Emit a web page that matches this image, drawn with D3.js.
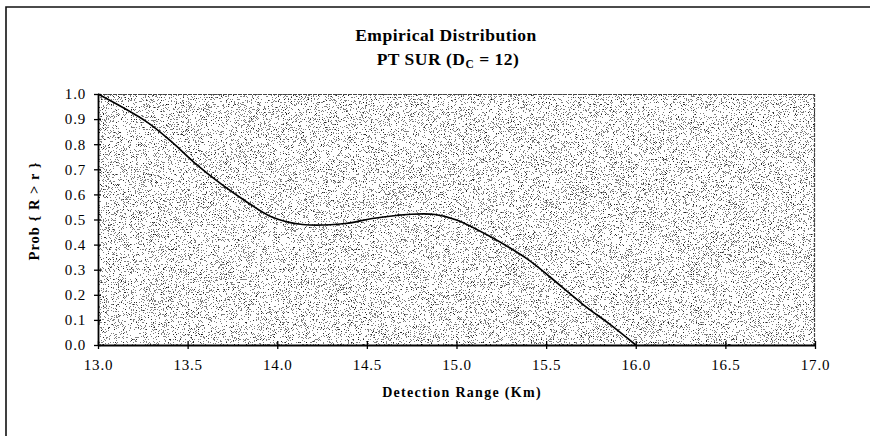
<!DOCTYPE html>
<html>
<head>
<meta charset="utf-8">
<script src="https://cdn.jsdelivr.net/npm/d3@7"></script>
<style>
  body { margin: 0; background: #fff; }
  svg { display: block; }
</style>
</head>
<body>
<div id="chart"></div>
<script>
// Values
const rangeKm = [13.0, 13.27, 13.41, 13.54, 13.69, 13.82, 13.97, 14.14, 14.38, 14.53, 14.75, 14.88, 15.0, 15.18, 15.39, 15.52, 15.71, 15.86, 16.0];
const probExceed = [1.0, 0.89, 0.81, 0.725, 0.64, 0.575, 0.51, 0.48, 0.484, 0.504, 0.521, 0.52, 0.498, 0.435, 0.345, 0.272, 0.159, 0.08, 0.0];
const xTicks = [13.0, 13.5, 14.0, 14.5, 15.0, 15.5, 16.0, 16.5, 17.0];
const yTicks = [0, 0.1, 0.2, 0.3, 0.4, 0.5, 0.6, 0.7, 0.8, 0.9, 1.0];

const width = 870, height = 436;
const margin = { top: 94, right: 55, bottom: 91, left: 98 };
const innerW = width - margin.left - margin.right;
const innerH = height - margin.top - margin.bottom;
const serif = "Liberation Serif, Times New Roman, serif";

const svg = d3.select("#chart").append("svg")
    .attr("width", width)
    .attr("height", height);

// stipple texture for the plot area (procedural noise, thresholded)
const defs = svg.append("defs");
const filt = defs.append("filter")
    .attr("id", "stipple")
    .attr("x", 0).attr("y", 0).attr("width", "100%").attr("height", "100%")
    .attr("color-interpolation-filters", "sRGB");
filt.append("feTurbulence")
    .attr("type", "fractalNoise")
    .attr("baseFrequency", 1.4)
    .attr("numOctaves", 1)
    .attr("seed", 7)
    .attr("result", "noise");
filt.append("feColorMatrix")
    .attr("in", "noise")
    .attr("type", "matrix")
    .attr("values", "0 0 0 0 0  0 0 0 0 0  0 0 0 0 0  1 0 0 0 0");
const ct = filt.append("feComponentTransfer");
ct.append("feFuncA")
    .attr("type", "discrete")
    .attr("tableValues", "0 0 0 0 0 0 0.5 0.85 1 1");

// outer frame (top and left edges only)
svg.append("path")
    .attr("d", `M6,${height} L6,7 L${width},7`)
    .attr("fill", "none")
    .attr("stroke", "#111")
    .attr("stroke-width", 1.6);

// title
const title = svg.append("text")
    .attr("text-anchor", "middle")
    .attr("font-family", serif)
    .attr("font-weight", "bold")
    .attr("font-size", 17.5)
    .attr("letter-spacing", 0.5);
title.append("tspan").attr("x", 446).attr("y", 41).text("Empirical Distribution");
const t2 = title.append("tspan").attr("x", 448).attr("y", 65);
t2.append("tspan").text("PT SUR (D");
t2.append("tspan").attr("font-size", 11.5).attr("dy", 3).text("C");
t2.append("tspan").attr("dy", -3).text(" = 12)");

const g = svg.append("g")
    .attr("transform", `translate(${margin.left},${margin.top})`);

const x = d3.scaleLinear().domain([13, 17]).range([0, innerW]);
const y = d3.scaleLinear().domain([0, 1]).range([innerH, 0]);

// plot background
g.append("rect")
    .attr("width", innerW).attr("height", innerH)
    .attr("fill", "#fff");
g.append("rect")
    .attr("width", innerW).attr("height", innerH)
    .attr("fill", "#000")
    .attr("filter", "url(#stipple)");

// soft top / right edges
g.append("path")
    .attr("d", `M0,0.5 H${innerW - 0.5} V${innerH}`)
    .attr("fill", "none")
    .attr("stroke", "#444")
    .attr("stroke-width", 1.2)
    .attr("stroke-dasharray", "4,1");

// axes
const xAxis = g.append("g")
    .attr("transform", `translate(0,${innerH})`)
    .call(d3.axisBottom(x).tickValues(xTicks).tickFormat(d3.format(".1f"))
        .tickSizeInner(4).tickSizeOuter(0).tickPadding(10));
xAxis.selectAll(".tick line").attr("y1", -4).attr("y2", 4).attr("stroke-width", 1.3);
xAxis.select(".domain").attr("stroke-width", 1.8);

const yAxis = g.append("g")
    .call(d3.axisLeft(y).tickValues(yTicks).tickFormat(d3.format(".1f"))
        .tickSizeInner(4).tickSizeOuter(0).tickPadding(8));
yAxis.selectAll(".tick line").attr("x1", -4).attr("x2", 3).attr("stroke-width", 1.3);
yAxis.select(".domain").attr("stroke-width", 1.8);
yAxis.selectAll(".tick text").attr("dy", "0.32em");

g.selectAll(".tick text")
    .style("font-family", serif)
    .style("font-size", "15px")
    .style("letter-spacing", "0.8px")
    .style("fill", "#000");

// the curve
const pts = rangeKm.map((r, i) => [r, probExceed[i]]);
const line = d3.line()
    .x(d => x(d[0]))
    .y(d => y(d[1]))
    .curve(d3.curveCatmullRom.alpha(0.5));
g.append("path")
    .datum(pts)
    .attr("d", line)
    .attr("fill", "none")
    .attr("stroke", "#000")
    .attr("stroke-width", 1.7);

// axis titles
svg.append("text")
    .attr("x", 462)
    .attr("y", 397)
    .attr("text-anchor", "middle")
    .attr("font-family", serif)
    .attr("font-weight", "bold")
    .attr("font-size", 14)
    .attr("letter-spacing", 1.3)
    .text("Detection Range (Km)");

svg.append("text")
    .attr("transform", `translate(39,211) rotate(-90)`)
    .attr("text-anchor", "middle")
    .attr("font-family", serif)
    .attr("font-weight", "bold")
    .attr("font-size", 14.5)
    .attr("letter-spacing", 1)
    .text("Prob { R > r }");
</script>
</body>
</html>
